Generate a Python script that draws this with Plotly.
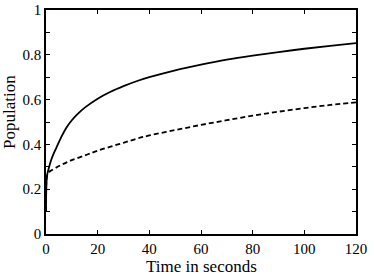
import plotly.graph_objects as go

solid_x = [0, 0.4, 1, 2, 3, 4, 6, 8, 10, 12, 15, 20, 25, 30, 35, 40, 50, 60, 70, 80, 90, 100, 110, 120]
solid_y = [0.10, 0.26, 0.29, 0.33, 0.36, 0.385, 0.435, 0.477, 0.508, 0.533, 0.564, 0.604, 0.635, 0.66, 0.682, 0.70, 0.731, 0.756, 0.778, 0.796, 0.812, 0.827, 0.84, 0.852]

dashed_x = [0, 0.4, 1, 2, 4, 6, 8, 10, 12, 16, 20, 25, 30, 35, 40, 50, 60, 70, 80, 90, 100, 110, 120]
dashed_y = [0.10, 0.26, 0.275, 0.283, 0.297, 0.309, 0.32, 0.33, 0.338, 0.355, 0.372, 0.39, 0.407, 0.425, 0.44, 0.464, 0.487, 0.508, 0.528, 0.546, 0.562, 0.576, 0.588]

x_ticks = [0, 20, 40, 60, 80, 100, 120]
y_ticks = [0, 0.2, 0.4, 0.6, 0.8, 1]
y_tick_text = ["0", "0.2", "0.4", "0.6", "0.8", "1"]

fig = go.Figure()
fig.add_trace(go.Scatter(x=solid_x, y=solid_y, mode="lines", line=dict(color="black", width=1.8, shape="spline", smoothing=1.0), showlegend=False))
fig.add_trace(go.Scatter(x=dashed_x, y=dashed_y, mode="lines", line=dict(color="black", width=1.8, dash="5px,3px", shape="spline", smoothing=1.0), showlegend=False))

serif = "Liberation Serif, Times New Roman, serif"
fig.update_layout(
    width=374, height=276,
    margin=dict(l=46, r=18, t=10, b=42),
    paper_bgcolor="white", plot_bgcolor="white",
    font=dict(family=serif, size=15, color="black"),
    xaxis=dict(range=[0, 120], tickvals=x_ticks, ticks="inside", ticklen=4, tickwidth=1, tickcolor="black",
               showline=True, linecolor="black", linewidth=1.5, mirror="ticks", showgrid=False, zeroline=False,
               automargin=False, tickfont=dict(family=serif, size=15)),
    yaxis=dict(range=[0, 1], tickvals=y_ticks, ticktext=y_tick_text, ticks="inside", ticklen=4, tickwidth=1, tickcolor="black",
               minor=dict(dtick=0.1, ticks="inside", ticklen=4, tickcolor="black", showgrid=False),
               showline=True, linecolor="black", linewidth=1.5, mirror="ticks", showgrid=False, zeroline=False,
               automargin=False, tickfont=dict(family=serif, size=15)),
    annotations=[
        dict(text="Time in seconds", xref="paper", yref="paper", x=0.5, y=0, xanchor="center", yanchor="middle",
             yshift=-32, showarrow=False, font=dict(family=serif, size=17)),
        dict(text="Population", xref="paper", yref="paper", x=0, y=0.545, xanchor="center", yanchor="middle",
             xshift=-36, textangle=-90, showarrow=False, font=dict(family=serif, size=17)),
    ],
)
fig.write_html("out.html", config={"displayModeBar": False}, post_script="document.body.style.margin='0';")
